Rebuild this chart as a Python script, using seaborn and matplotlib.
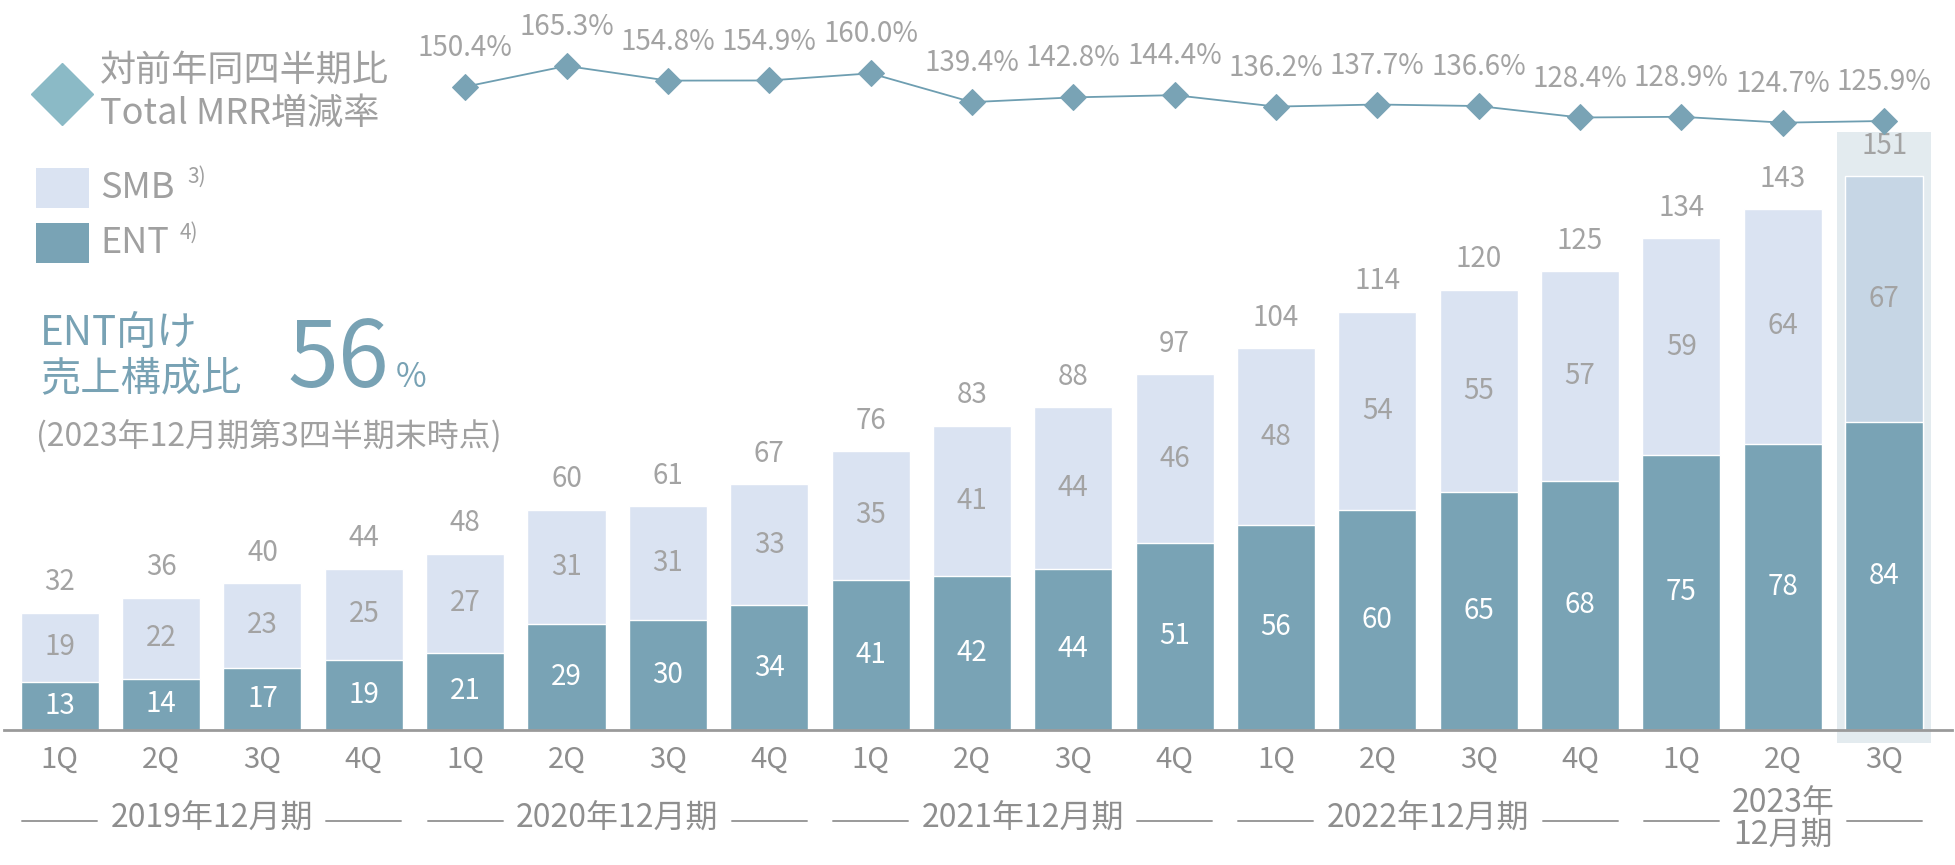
import numpy as np
import pandas as pd
import matplotlib
matplotlib.use("Agg")
import matplotlib.pyplot as plt
import matplotlib.transforms as mtransforms
from matplotlib.patches import Rectangle
from matplotlib.lines import Line2D
import seaborn as sns

# ---------------- data ----------------
quarters = ["1Q", "2Q", "3Q", "4Q"] * 4 + ["1Q", "2Q", "3Q"]
fiscal_years = ["2019年12月期", "2020年12月期", "2021年12月期", "2022年12月期", "2023年\n12月期"]
fy_counts = [4, 4, 4, 4, 3]
ent = [13, 14, 17, 19, 21, 29, 30, 34, 41, 42, 44, 51, 56, 60, 65, 68, 75, 78, 84]
smb = [19, 22, 23, 25, 27, 31, 31, 33, 35, 41, 44, 46, 48, 54, 55, 57, 59, 64, 67]
total = [32, 36, 40, 44, 48, 60, 61, 67, 76, 83, 88, 97, 104, 114, 120, 125, 134, 143, 151]
growth_start = 4
growth = [150.4, 165.3, 154.8, 154.9, 160.0, 139.4, 142.8, 144.4, 136.2, 137.7,
          136.6, 128.4, 128.9, 124.7, 125.9]
ent_share = "56"

# ---------------- style ----------------
sns.set_theme(style="white")
plt.rcParams["font.family"] = ["Noto Sans CJK JP", "DejaVu Sans"]

C_ENT = "#79A3B5"
C_SMB = "#DAE3F2"
C_SMB_HL = "#C6D6E5"
C_HL = "#E3EBEF"
C_LINE = "#6E9EB1"
C_GREY = "#A3A3A3"
C_AXGREY = "#8E8E8E"
C_TEAL = "#78A2B4"

W, H = 1956, 865
fig = plt.figure(figsize=(W / 100, H / 100), dpi=100)
fx = lambda px: px / W
fy = lambda py: 1 - py / H

ax = fig.add_axes([fx(4), fy(730), fx(1952) - fx(4), fy(0) - fy(730)])

n = len(ent)
ids = [f"p{i:02d}" for i in range(n)]
stacked = [e + s for e, s in zip(ent, smb)]
df = pd.DataFrame({"id": ids, "ent": ent, "stack": stacked})

smb_palette = [C_SMB] * (n - 1) + [C_SMB_HL]
sns.barplot(data=df, x="id", y="stack", hue="id", palette=smb_palette, legend=False,
            width=0.77, saturation=1, ax=ax, zorder=2, order=ids, hue_order=ids)
sns.barplot(data=df, x="id", y="ent", color=C_ENT, width=0.77, saturation=1,
            ax=ax, zorder=3, order=ids)

ax.set_xlim(-0.55, n - 1 + 0.67)
ax.set_ylim(0, 199)

# highlight of latest quarter
hl = Rectangle((n - 1 - 0.46, -3.6), 0.92, 166.5, facecolor=C_HL, edgecolor="none",
               zorder=1, clip_on=False)
ax.add_patch(hl)

# labels in bars
for i in range(n):
    ax.text(i, ent[i] / 2, str(ent[i]), ha="center", va="center", color="white",
            fontsize=20, zorder=5)
    ax.text(i, ent[i] + smb[i] / 2, str(smb[i]), ha="center", va="center",
            color=C_GREY, fontsize=20, zorder=5)
    ax.annotate(str(total[i]), (i, stacked[i]), xytext=(0, 22), textcoords="offset points",
                ha="center", va="center", color=C_GREY, fontsize=20, zorder=5)

# axes cosmetics
for s in ["left", "right", "top"]:
    ax.spines[s].set_visible(False)
ax.spines["bottom"].set_color("#9A9A9A")
ax.spines["bottom"].set_linewidth(2)
ax.spines["bottom"].set_zorder(6)
ax.set_yticks([])
ax.set_xticks(range(n))
ax.set_xticklabels(quarters, fontsize=21, color=C_AXGREY)
ax.tick_params(axis="x", length=0, pad=11)
ax.set_xlabel("")
ax.set_ylabel("")
ax.patch.set_alpha(0)

# fiscal year labels with dashes
blend = mtransforms.blended_transform_factory(ax.transData, fig.transFigure)
start = 0
for label, cnt in zip(fiscal_years, fy_counts):
    first, last = start, start + cnt - 1
    center = (first + last) / 2
    ax.text(center, fy(819), label, transform=blend, ha="center", va="center",
            fontsize=23, color=C_AXGREY, linespacing=1.0)
    for b in (first, last):
        ax.add_line(Line2D([b - 0.37, b + 0.37], [fy(821), fy(821)], transform=blend,
                           color="#9A9A9A", lw=1.4, clip_on=False))
    start += cnt

# growth line on twin axis
ax2 = ax.twinx()
gx = list(range(growth_start, growth_start + len(growth)))
sns.lineplot(x=gx, y=growth, ax=ax2, color=C_LINE, lw=1.3, marker="D", markersize=13,
             markerfacecolor=C_ENT, markeredgecolor=C_ENT, zorder=4)
ax2.set_ylim(-310, 212.5)
ax2.set_xlim(ax.get_xlim())
ax2.axis("off")
for x, g in zip(gx, growth):
    ax2.annotate(f"{g:.1f}%", (x, g), xytext=(0, 28), textcoords="offset points",
                 ha="center", va="center", color=C_GREY, fontsize=20)

# ---------------- legend & annotations ----------------
LEG = "#A0A0A0"
fig.add_artist(Line2D([fx(62)], [fy(94)], marker="D", markersize=32, color="#8BBAC6",
                      transform=fig.transFigure))
fig.text(fx(100), fy(71), "対前年同四半期比", fontsize=26, color=LEG, va="center")
fig.text(fx(100), fy(114), "Total MRR増減率", fontsize=26, color=LEG, va="center")

fig.add_artist(Rectangle((fx(36), fy(208)), fx(53), 40 / H, facecolor=C_SMB,
                         edgecolor="none", transform=fig.transFigure))
fig.add_artist(Rectangle((fx(36), fy(263)), fx(53), 40 / H, facecolor=C_ENT,
                         edgecolor="none", transform=fig.transFigure))
fig.text(fx(100), fy(188), "SMB", fontsize=26, color=LEG, va="center")
fig.text(fx(187), fy(177), "3)", fontsize=15, color=LEG, va="center")
fig.text(fx(100), fy(243), "ENT", fontsize=26, color=LEG, va="center")
fig.text(fx(180), fy(233), "4)", fontsize=15, color=LEG, va="center")

fig.text(fx(40), fy(334), "ENT向け", fontsize=29, color=C_TEAL, va="center")
fig.text(fx(40), fy(379), "売上構成比", fontsize=29, color=C_TEAL, va="center")
fig.text(fx(288), fy(387), ent_share, fontsize=66, color=C_TEAL, va="baseline")
fig.text(fx(396), fy(387), "%", fontsize=24, color=C_TEAL, va="baseline")
fig.text(fx(36), fy(437), "(2023年12月期第3四半期末時点)", fontsize=23, color=LEG,
         va="center")

fig.savefig("out.png", dpi=100)
